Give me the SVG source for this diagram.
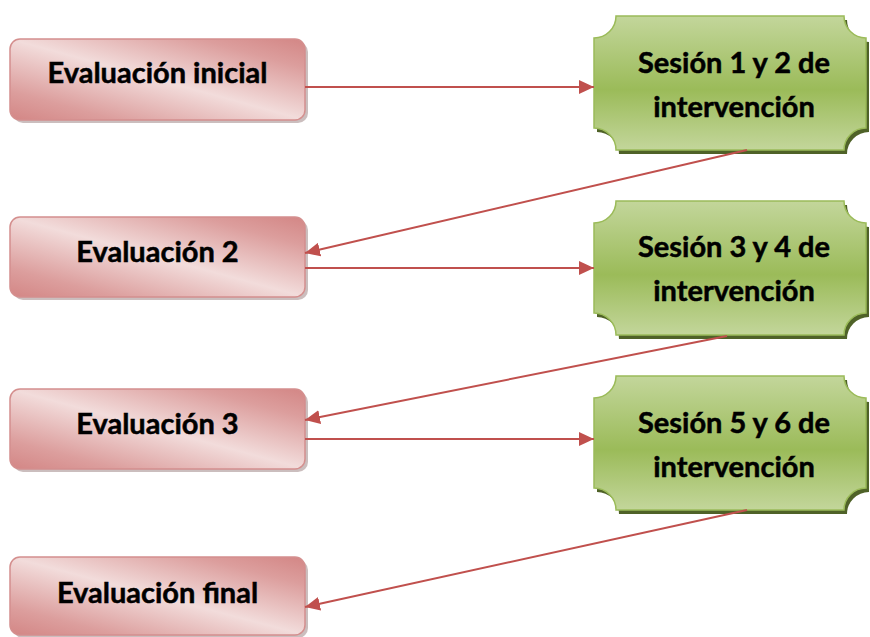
<svg xmlns="http://www.w3.org/2000/svg" width="870" height="637" viewBox="0 0 870 637">
<defs>
<linearGradient id="pinkG" x1="1" y1="0" x2="0" y2="1">
<stop offset="0" stop-color="#d38685"/>
<stop offset="0.18" stop-color="#dc9e9d"/>
<stop offset="0.5" stop-color="#f2dcdb"/>
<stop offset="0.82" stop-color="#dc9e9d"/>
<stop offset="1" stop-color="#d38685"/>
</linearGradient>
<linearGradient id="greenG" x1="0" y1="0" x2="0" y2="1">
<stop offset="0" stop-color="#c3d69b"/>
<stop offset="0.55" stop-color="#9bbb59"/>
<stop offset="1" stop-color="#c3d69b"/>
</linearGradient>
<marker id="ah" markerUnits="userSpaceOnUse" markerWidth="16" markerHeight="14" refX="15" refY="7" orient="auto">
<path d="M0,0 L15,7 L0,14 Z" fill="#c0504d"/>
</marker>
<path id="plaque" d="M22,0 L250,0 A22,22 0 0 0 272,22 L272,112 A22,22 0 0 0 250,134 L22,134 A22,22 0 0 0 0,112 L0,22 A22,22 0 0 0 22,0 Z"/>
</defs>
<style>
.pshadow{fill:#a08888;opacity:0.55}
.pink{fill:url(#pinkG);stroke:#d48f8e;stroke-width:1.5}
.gshadow{fill:#4f6228}
.green{fill:url(#greenG);stroke:#9bbb59;stroke-width:1.5}
.t{font-family:Lato,"Liberation Sans",sans-serif;font-weight:bold;font-size:29px;fill:#000;stroke:#000;stroke-width:0.5;text-anchor:middle}
.c{fill:none;stroke:#c0504d;stroke-width:2;marker-end:url(#ah)}
</style>
<rect width="870" height="637" fill="#fff"/>

<g id="eval-inicial">
<rect class="pshadow" x="13" y="42" width="295" height="81" rx="10"/>
<rect class="pink" x="10" y="39" width="295" height="81" rx="10"/>
<text class="t" x="157.5" y="83">Evaluación inicial</text>
</g>
<g id="eval-2">
<rect class="pshadow" x="13" y="220" width="295" height="80" rx="10"/>
<rect class="pink" x="10" y="217" width="295" height="80" rx="10"/>
<text class="t" x="157.5" y="262">Evaluación 2</text>
</g>
<g id="eval-3">
<rect class="pshadow" x="13" y="392" width="295" height="80" rx="10"/>
<rect class="pink" x="10" y="389" width="295" height="80" rx="10"/>
<text class="t" x="157.5" y="434">Evaluación 3</text>
</g>
<g id="eval-final">
<rect class="pshadow" x="13" y="560" width="295" height="78" rx="10"/>
<rect class="pink" x="10" y="557" width="295" height="78" rx="10"/>
<text class="t" x="157.5" y="603">Evaluación final</text>
</g>

<g id="sesion-1-2">
<use href="#plaque" class="gshadow" x="597" y="20"/>
<use href="#plaque" class="green" x="594" y="16"/>
<text class="t" x="734" y="73">Sesión 1 y 2 de</text>
<text class="t" x="734" y="117">intervención</text>
</g>
<g id="sesion-3-4">
<use href="#plaque" class="gshadow" x="597" y="205"/>
<use href="#plaque" class="green" x="594" y="201"/>
<text class="t" x="734" y="257">Sesión 3 y 4 de</text>
<text class="t" x="734" y="301">intervención</text>
</g>
<g id="sesion-5-6">
<use href="#plaque" class="gshadow" x="597" y="380"/>
<use href="#plaque" class="green" x="594" y="376"/>
<text class="t" x="734" y="433">Sesión 5 y 6 de</text>
<text class="t" x="734" y="477">intervención</text>
</g>

<g id="connectors">
<line class="c" x1="305" y1="87" x2="594" y2="87"/>
<line class="c" x1="747" y1="150" x2="305" y2="253"/>
<line class="c" x1="305" y1="268" x2="594" y2="268"/>
<line class="c" x1="727" y1="336" x2="305" y2="420"/>
<line class="c" x1="305" y1="439" x2="594" y2="439"/>
<line class="c" x1="747" y1="510" x2="305" y2="607"/>
</g>
</svg>
